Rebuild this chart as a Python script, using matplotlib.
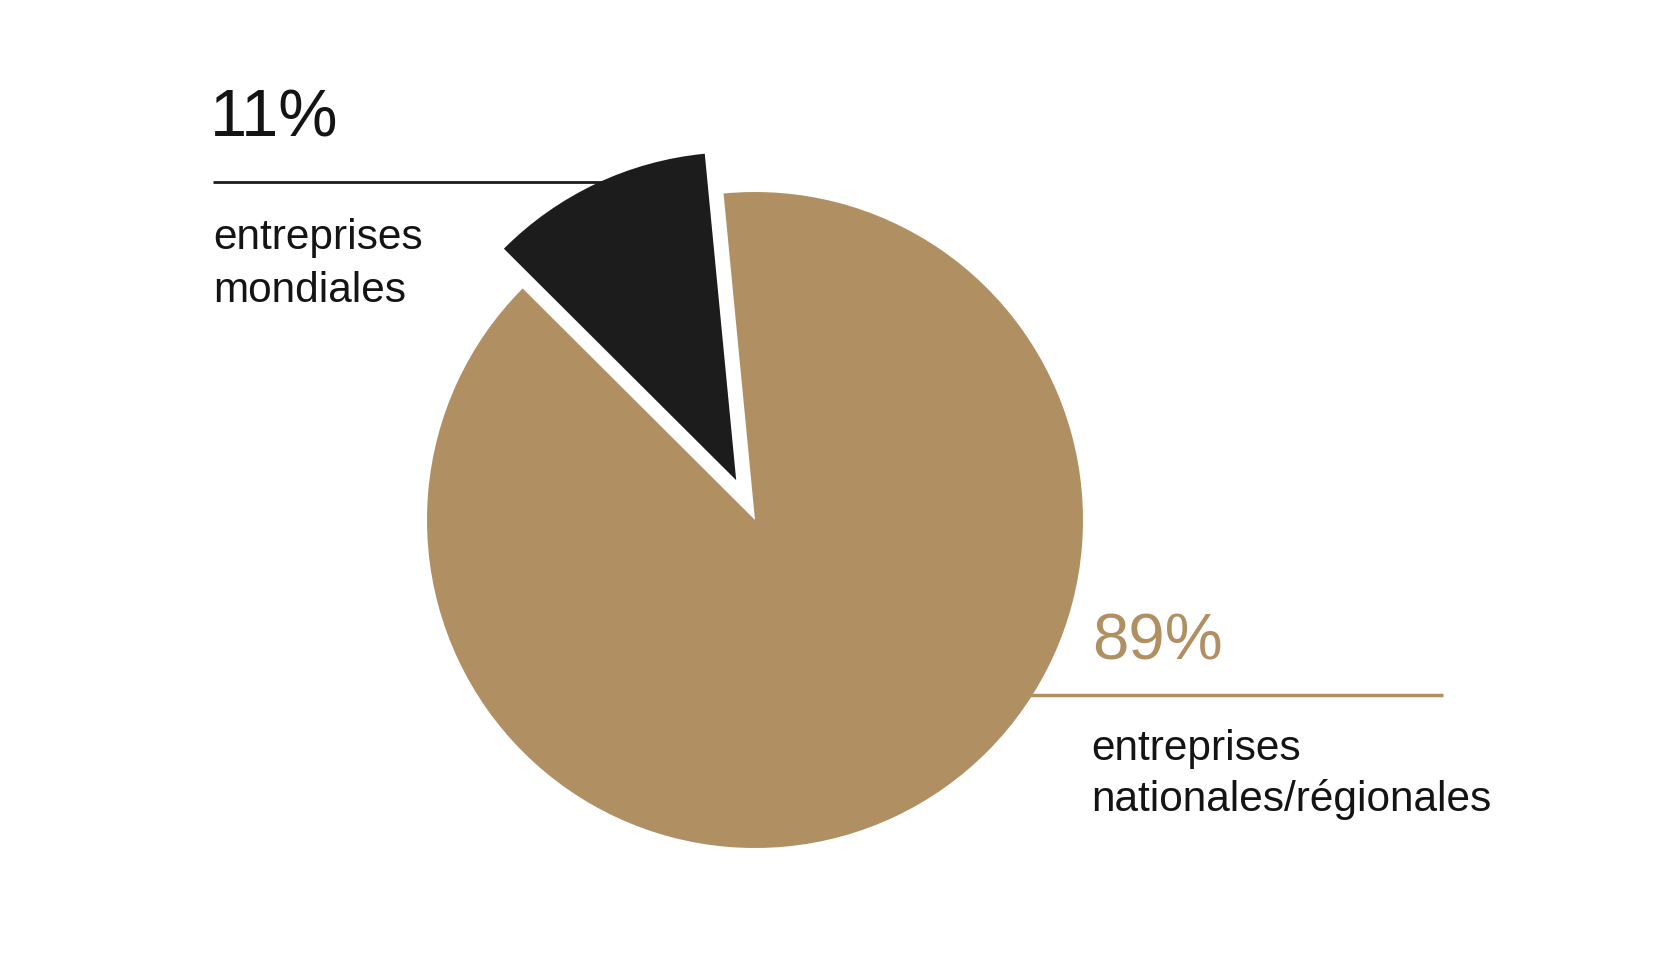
import matplotlib
matplotlib.use("Agg")
import matplotlib.pyplot as plt

# Data
categories = ["entreprises\nmondiales", "entreprises\nnationales/régionales"]
values = [11, 89]
pct_labels = ["11%", "89%"]

TAN = "#B08F62"
BLACK = "#1C1C1C"
TEXT = "#141414"

W, H = 1653, 955
plt.rcParams["font.family"] = ["Liberation Sans", "DejaVu Sans"]
fig = plt.figure(figsize=(W / 100, H / 100), dpi=100)
ax = fig.add_axes([0, 0, 1, 1])

cx, cy, r = 755, H - 520, 328

# leader lines (behind pie)
ax.plot([213, 650], [H - 182, H - 182], color=BLACK, lw=2.0, zorder=0, solid_capstyle="butt")
ax.plot([1000, 1443], [H - 695, H - 695], color=TAN, lw=2.5, zorder=0, solid_capstyle="butt")

ax.pie(values, colors=[BLACK, TAN], startangle=95.5, counterclock=True,
       explode=[44, 0], center=(cx, cy), radius=r,
       wedgeprops=dict(linewidth=0), frame=True)
ax.set_xlim(0, W)
ax.set_ylim(0, H)
ax.set_aspect("equal")
ax.axis("off")

# texts
ax.text(210, H - 137, pct_labels[0], fontsize=48, color=TEXT, va="baseline", ha="left")
ax.text(1092, H - 660, pct_labels[1], fontsize=47, color=TAN, va="baseline", ha="left")

def two_lines(x, y0, text, spacing):
    for i, line in enumerate(text.split("\n")):
        ax.text(x, H - (y0 + i * spacing), line, fontsize=30.5, color=TEXT,
                va="baseline", ha="left")

two_lines(213, 249, categories[0], 53)
two_lines(1091, 760, categories[1], 51)

fig.savefig("out.png", dpi=100)
